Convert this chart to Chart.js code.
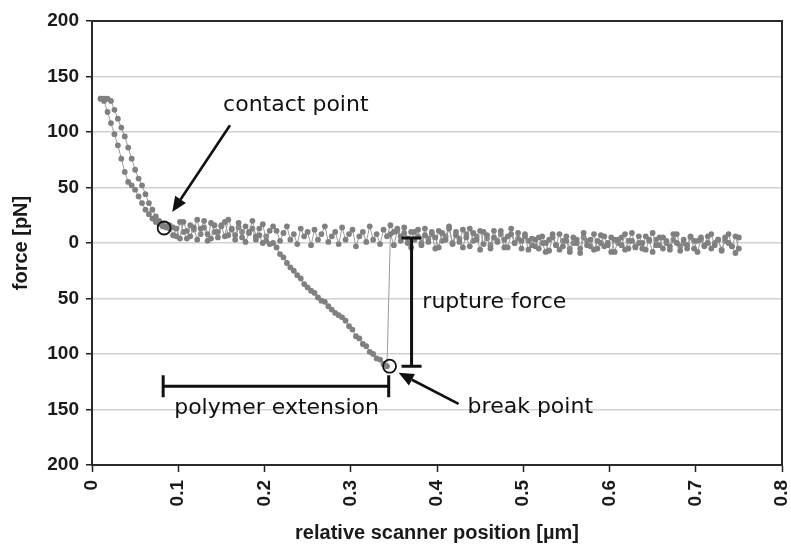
<!DOCTYPE html>
<html>
<head>
<meta charset="utf-8">
<script src="https://cdn.jsdelivr.net/npm/chart.js@4"></script>
<style>
  html, body { margin: 0; padding: 0; background: #fff; overflow: hidden; }
  #wrap { width: 791px; height: 546px; position: relative; }
  canvas { display: block; }
</style>
</head>
<body>
<div id="wrap"><canvas id="myChart"></canvas></div>
<script>
// scanner position (um) shared by both traces
var position = [
  0.010,0.014,0.018,0.022,0.026,0.030,0.034,0.038,0.042,0.046,
  0.050,0.054,0.058,0.062,0.066,0.070,0.074,0.078,0.082,0.086,
  0.090,0.094,0.098,0.102,0.106,0.110,0.114,0.118,0.122,0.126,
  0.130,0.134,0.138,0.142,0.146,0.150,0.154,0.158,0.162,0.166,
  0.170,0.174,0.178,0.182,0.186,0.190,0.194,0.198,0.202,0.206,
  0.210,0.214,0.218,0.222,0.226,0.230,0.234,0.238,0.242,0.246,
  0.250,0.254,0.258,0.262,0.266,0.270,0.274,0.278,0.282,0.286,
  0.290,0.294,0.298,0.302,0.306,0.310,0.314,0.318,0.322,0.326,
  0.330,0.334,0.338,0.342,0.346,0.350,0.354,0.358,0.362,0.366,
  0.370,0.374,0.378,0.382,0.386,0.390,0.394,0.398,0.402,0.406,
  0.410,0.414,0.418,0.422,0.426,0.430,0.434,0.438,0.442,0.446,
  0.450,0.454,0.458,0.462,0.466,0.470,0.474,0.478,0.482,0.486,
  0.490,0.494,0.498,0.502,0.506,0.510,0.514,0.518,0.522,0.526,
  0.530,0.534,0.538,0.542,0.546,0.550,0.554,0.558,0.562,0.566,
  0.570,0.574,0.578,0.582,0.586,0.590,0.594,0.598,0.602,0.606,
  0.610,0.614,0.618,0.622,0.626,0.630,0.634,0.638,0.642,0.646,
  0.650,0.654,0.658,0.662,0.666,0.670,0.674,0.678,0.682,0.686,
  0.690,0.694,0.698,0.702,0.706,0.710,0.714,0.718,0.722,0.726,
  0.730,0.734,0.738,0.742,0.746,0.750
];

// approach trace (pN)
var approach = [
  // 0.010 - 0.086
  130,128,118,108,98,88,76,64,55,52,48,42,36,30,26,22,19,17,15,14,
  // 0.090 - 0.210
  16,7,13,4,19,11,6,14,3,13,20,8,4,16,10,15,6,21,13,7,18,5,15,10,20,6,13,17,2,11,15,
  // 0.214 - 0.350
  11,2,9,15,3,8,-1,13,6,10,-2,12,3,8,15,1,6,10,-1,14,3,8,12,-3,6,10,1,15,3,8,-1,12,6,16,10,
  // 0.354 - 0.510
  13,6,9,0,10,3,12,-2,7,1,10,5,-4,9,3,13,-1,7,1,12,5,-3,9,3,11,-1,7,-5,5,1,11,3,-4,8,0,9,2,6,-6,4,
  // 0.514 - 0.750
  3,-5,6,0,-7,5,-2,8,-3,2,-8,5,0,-5,9,-2,3,-6,2,7,-3,0,5,-8,3,-2,8,-5,2,-4,
  6,0,-6,3,9,-2,5,-5,2,-3,8,0,-7,3,-2,6,-5,2,5,-3,0,8,-2,3,-7,5,0,-3,6,-5
];

// retraction trace (pN), breaks at 0.344 um
var retraction = [
  // 0.010 - 0.090
  130,130,130,128,120,112,104,96,86,76,66,58,52,44,36,30,24,20,17,15,13,
  // 0.094 - 0.206
  14,6,19,10,4,16,12,21,8,14,2,18,10,5,16,19,7,12,3,14,10,1,9,13,3,7,0,6,-1,
  // 0.210 - 0.342
  0,-4,-10,-13,-18,-22,-25,-29,-32,-37,-40,-43,-45,-49,-52,-53,-57,-60,-63,-65,
  -67,-70,-75,-78,-84,-86,-91,-93,-98,-100,-104,-105,-109,-111,
  // 0.346 - 0.510
  8,-2,11,2,14,4,-4,10,6,0,13,4,8,-5,11,2,6,15,0,10,4,-4,8,13,2,6,-6,10,4,-2,11,2,8,-4,6,13,0,4,-5,8,2,-2,
  // 0.514 - 0.750
  -3,5,0,-8,3,8,-2,-6,2,6,-5,0,3,-9,5,2,-3,8,-5,0,6,-2,-8,3,0,5,-6,2,9,-3,
  0,-5,6,2,-8,3,-2,5,0,-6,3,8,-3,0,-5,5,2,-8,3,-2,6,-5,0,3,-6,2,8,-3,-9,5
];

var xTicks = [0, 0.1, 0.2, 0.3, 0.4, 0.5, 0.6, 0.7, 0.8];
var xTickLabels = ['0', '0.1', '0.2', '0.3', '0.4', '0.5', '0.6', '0.7', '0.8'];
var yTicks = [-200, -150, -100, -50, 0, 50, 100, 150, 200];
var yTickLabels = ['200', '150', '100', '50', '0', '50', '100', '150', '200'];

// annotations, in data units
var circles = [[0.0836, 13.5], [0.345, -111]];
var arrows = [
  { from: [0.160, 106], to: [0.093, 28] },
  { from: [0.425, -145], to: [0.3555, -117] }
];
var notes = [
  { text: 'contact point', x: 0.152, y: 124, align: 'left' },
  { text: 'rupture force', x: 0.383, y: -53, align: 'left' },
  { text: 'break point', x: 0.4355, y: -148, align: 'left' },
  { text: 'polymer extension', x: 0.214, y: -149, align: 'center' }
];
var ruptureBar = { x: 0.3705, y1: 4.5, y2: -111 };
var extensionBar = { y: -129, x1: 0.0825, x2: 0.344 };

function pontos(ys) {
  return position.map(function (x, i) { return { x: x, y: ys[i] }; });
}

var annotations = {
  id: 'annotations',
  afterDatasetsDraw: function (chart) {
    var ctx = chart.ctx;
    var xs = chart.scales.x, ys = chart.scales.y;
    var a = chart.chartArea;
    function px(v) { return xs.getPixelForValue(v); }
    function py(v) { return ys.getPixelForValue(v); }

    ctx.save();
    // frame
    ctx.strokeStyle = '#2a2a2a';
    ctx.lineWidth = 2;
    ctx.strokeRect(a.left, a.top, a.right - a.left, a.bottom - a.top);

    // circles
    ctx.strokeStyle = '#111';
    ctx.lineWidth = 1.8;
    circles.forEach(function (c) {
      ctx.beginPath();
      ctx.arc(px(c[0]), py(c[1]), 6.5, 0, Math.PI * 2);
      ctx.stroke();
    });

    // arrows
    ctx.fillStyle = '#111';
    arrows.forEach(function (ar) {
      var x1 = px(ar.from[0]), y1 = py(ar.from[1]);
      var x2 = px(ar.to[0]), y2 = py(ar.to[1]);
      var ang = Math.atan2(y2 - y1, x2 - x1);
      var len = 15, half = 6.5;
      var bx = x2 - len * Math.cos(ang), by = y2 - len * Math.sin(ang);
      ctx.lineWidth = 2.6;
      ctx.beginPath();
      ctx.moveTo(x1, y1);
      ctx.lineTo(bx, by);
      ctx.stroke();
      ctx.beginPath();
      ctx.moveTo(x2, y2);
      ctx.lineTo(bx + half * Math.sin(ang), by - half * Math.cos(ang));
      ctx.lineTo(bx - half * Math.sin(ang), by + half * Math.cos(ang));
      ctx.closePath();
      ctx.fill();
    });

    // brackets
    ctx.lineWidth = 3;
    var rx = px(ruptureBar.x), ry1 = py(ruptureBar.y1), ry2 = py(ruptureBar.y2);
    ctx.beginPath();
    ctx.moveTo(rx, ry1); ctx.lineTo(rx, ry2);
    ctx.moveTo(rx - 10, ry1); ctx.lineTo(rx + 10, ry1);
    ctx.moveTo(rx - 10, ry2); ctx.lineTo(rx + 10, ry2);
    ctx.stroke();
    var ey = py(extensionBar.y), ex1 = px(extensionBar.x1), ex2 = px(extensionBar.x2);
    ctx.beginPath();
    ctx.moveTo(ex1, ey); ctx.lineTo(ex2, ey);
    ctx.moveTo(ex1, ey - 11); ctx.lineTo(ex1, ey + 11);
    ctx.moveTo(ex2, ey - 11); ctx.lineTo(ex2, ey + 11);
    ctx.stroke();

    // text
    ctx.font = '22px "DejaVu Sans", Verdana, sans-serif';
    ctx.textBaseline = 'middle';
    notes.forEach(function (n) {
      ctx.textAlign = n.align;
      ctx.fillText(n.text, px(n.x), py(n.y));
    });
    ctx.restore();
  }
};

var tickFont = { family: '"Liberation Sans", Arial, sans-serif', size: 19, weight: 'bold' };
var titleFont = { family: '"Liberation Sans", Arial, sans-serif', size: 20, weight: 'bold' };

new Chart(document.getElementById('myChart'), {
  type: 'scatter',
  data: {
    datasets: [
      {
        label: 'approach',
        data: pontos(approach),
        showLine: true,
        borderColor: '#9a9a9a',
        borderWidth: 1,
        pointRadius: 2.9,
        pointBorderWidth: 0,
        pointBackgroundColor: '#808080'
      },
      {
        label: 'retraction',
        data: pontos(retraction),
        showLine: true,
        borderColor: '#9a9a9a',
        borderWidth: 1,
        pointRadius: 2.9,
        pointBorderWidth: 0,
        pointBackgroundColor: '#808080'
      }
    ]
  },
  options: {
    responsive: true,
    maintainAspectRatio: false,
    animation: false,
    layout: { autoPadding: false, padding: { top: 21, right: 9, left: 0, bottom: 0 } },
    plugins: { legend: { display: false }, tooltip: { enabled: false } },
    scales: {
      x: {
        type: 'linear',
        min: 0,
        max: 0.8,
        afterFit: function (s) { s.height = 81; s.paddingLeft = 0; s.paddingRight = 0; },
        afterBuildTicks: function (s) { s.ticks = xTicks.map(function (v) { return { value: v }; }); },
        ticks: {
          color: '#1a1a1a',
          font: tickFont,
          minRotation: 90,
          maxRotation: 90,
          padding: 8,
          callback: function (v, i) { return xTickLabels[i]; }
        },
        grid: { drawOnChartArea: false, tickColor: '#222', tickLength: 7, tickWidth: 1.5 },
        border: { display: true, color: '#222', width: 2 },
        title: { display: true, text: 'relative scanner position [\u00b5m]', color: '#1a1a1a', font: titleFont, padding: { top: 0, bottom: 1 } }
      },
      y: {
        type: 'linear',
        min: -200,
        max: 200,
        afterFit: function (s) { s.width = 92; s.paddingTop = 0; s.paddingBottom = 0; },
        afterBuildTicks: function (s) { s.ticks = yTicks.map(function (v) { return { value: v }; }); },
        ticks: {
          color: '#1a1a1a',
          font: tickFont,
          padding: 7,
          callback: function (v, i) { return yTickLabels[i]; }
        },
        grid: { color: '#d2d2d2', lineWidth: 1.5, tickColor: '#222', tickLength: 6, tickWidth: 1.5 },
        border: { display: true, color: '#222', width: 2 },
        title: { display: true, text: 'force [pN]', color: '#1a1a1a', font: titleFont, padding: { top: 9, bottom: 0 } }
      }
    }
  },
  plugins: [annotations]
});
</script>
</body>
</html>
